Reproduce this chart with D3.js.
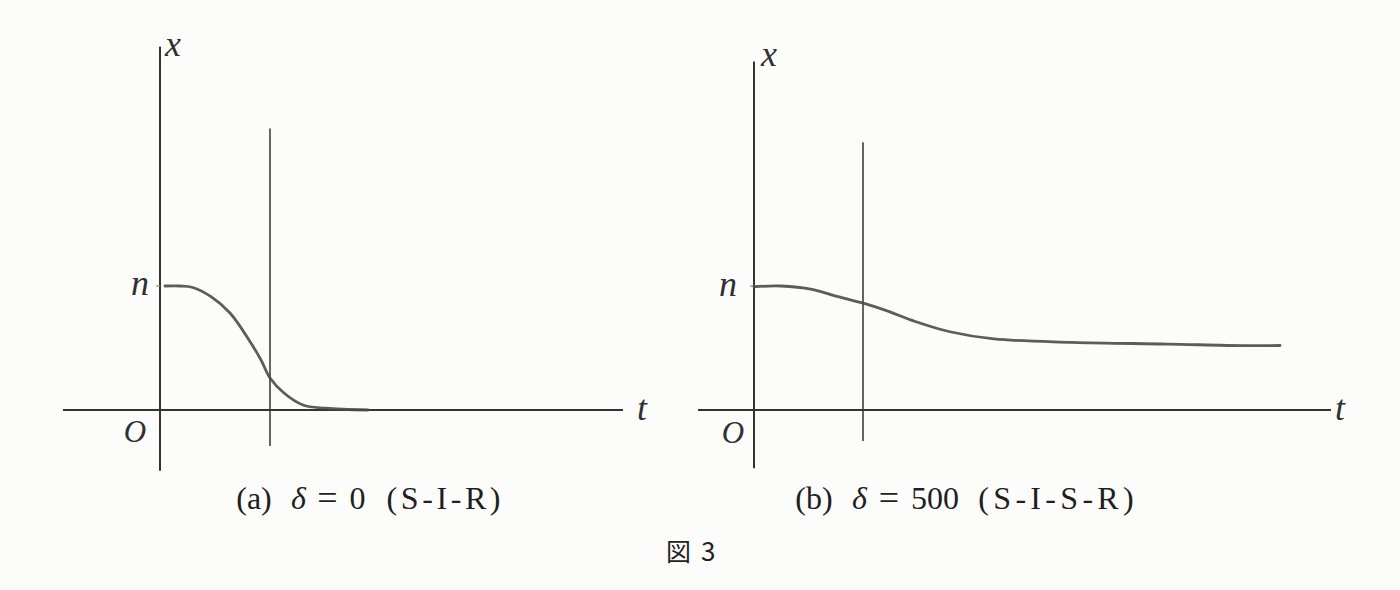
<!DOCTYPE html>
<html>
<head>
<meta charset="utf-8">
<script src="https://cdn.jsdelivr.net/npm/d3@7"></script>
<style>
  html, body { margin: 0; padding: 0; background: #fcfcfb; }
  svg { display: block; }
  .lbl { font-family: "Liberation Serif", "DejaVu Serif", serif; font-style: italic; fill: #303030; }
  .cap { font-family: "Liberation Serif", "DejaVu Serif", serif; fill: #1f1f1f; }
  .fig { font-family: "Noto Sans CJK JP", sans-serif; fill: #222; }
</style>
</head>
<body>
<script>
// ---- data (t in arbitrary time units, x as a fraction of n) ----
const panelA_t = [0.05, 0.20, 0.32, 0.51, 0.70, 0.89, 1.01, 1.10, 1.24, 1.43, 1.66, 2.08];
const panelA_x = [1.00, 1.00, 0.99, 0.914, 0.782, 0.565, 0.403, 0.258, 0.137, 0.040, 0.014, 0.0];
const panelB_t = [0.0, 0.27, 0.58, 0.84, 1.10, 1.31, 1.62, 1.96, 2.40, 3.18, 4.13, 4.91, 5.26];
const panelB_x = [0.994, 1.0, 0.973, 0.914, 0.860, 0.806, 0.712, 0.631, 0.573, 0.546, 0.532, 0.519, 0.52];
const markerT = [1.10, 1.09];                 // vertical reference line positions
const axisLabels = { x: "x", t: "t", n: "n", origin: "O" };
const captions = ["(a)", "(b)"];
const deltaValues = ["0", "500"];
const modelNames = ["(S-I-R)", "(S-I-S-R)"];
const figureTitle = ["図", "3"];

const W = 1400, H = 590;
const svg = d3.select("body").append("svg").attr("width", W).attr("height", H);

const panels = [
  { t: panelA_t, x: panelA_x, origin: 160, tRange: [-0.97, 4.63], xRange: [-0.49, 2.93],
    vTop: 2.27, vBot: -0.29, mark: markerT[0],
    lab: { x: [13, 56], n: [-20, 295], o: [-25, 442], t: [19, 420] },
    cap: [254, 298.5, 327.5, 357.5, 443.5] },
  { t: panelB_t, x: panelB_x, origin: 754, tRange: [-0.56, 5.77], xRange: [-0.47, 2.81],
    vTop: 2.16, vBot: -0.25, mark: markerT[1],
    lab: { x: [15, 66], n: [-26, 296], o: [-21, 443], t: [9, 420] },
    cap: [814, 859.5, 889, 935, 1056] }
];

const y = d3.scaleLinear().domain([0, 1]).range([410, 286]);
const axisColor = "#333";

panels.forEach((p, i) => {
  const x = d3.scaleLinear().domain([0, 1]).range([p.origin, p.origin + 100]);
  const g = svg.append("g");

  // t axis
  g.append("line").attr("x1", x(p.tRange[0])).attr("x2", x(p.tRange[1]))
    .attr("y1", y(0)).attr("y2", y(0))
    .attr("stroke", axisColor).attr("stroke-width", 2);
  // x axis
  g.append("line").attr("x1", x(0)).attr("x2", x(0))
    .attr("y1", y(p.xRange[0])).attr("y2", y(p.xRange[1]))
    .attr("stroke", axisColor).attr("stroke-width", 2);
  // vertical marker
  g.append("line").attr("x1", x(p.mark)).attr("x2", x(p.mark))
    .attr("y1", y(p.vBot)).attr("y2", y(p.vTop))
    .attr("stroke", axisColor).attr("stroke-width", 1.5);

  // small n tick
  g.append("line").attr("x1", x(-0.04)).attr("x2", x(0.0))
    .attr("y1", y(1)).attr("y2", y(1))
    .attr("stroke", "#888").attr("stroke-width", 1.2);

  // curve
  const data = p.t.map((tv, k) => [tv, p.x[k]]);
  const line = d3.line().x(d => x(d[0])).y(d => y(d[1])).curve(d3.curveCatmullRom.alpha(0.5));
  g.append("path").datum(data).attr("d", line)
    .attr("fill", "none").attr("stroke", "#4a4a4a").attr("stroke-width", 2.8)
    .attr("stroke-linecap", "round").attr("opacity", 0.9);

  // labels
  const L = p.lab;
  g.append("text").attr("class", "lbl").attr("x", x(0) + L.x[0]).attr("y", L.x[1])
    .attr("text-anchor", "middle").attr("font-size", 36).text(axisLabels.x);
  g.append("text").attr("class", "lbl").attr("x", x(0) + L.n[0]).attr("y", L.n[1])
    .attr("text-anchor", "middle").attr("font-size", 36).text(axisLabels.n);
  g.append("text").attr("class", "lbl").attr("x", x(0) + L.o[0]).attr("y", L.o[1])
    .attr("text-anchor", "middle").attr("font-size", 31).text(axisLabels.origin);
  g.append("text").attr("class", "lbl").attr("x", x(p.tRange[1]) + L.t[0]).attr("y", L.t[1])
    .attr("text-anchor", "middle").attr("font-size", 36).text(axisLabels.t);

  // caption, piece by piece (centred on the measured positions)
  const parts = [
    { s: captions[i], it: false },
    { s: "δ", it: true },
    { s: "=", it: false, fs: 36 },
    { s: deltaValues[i], it: false },
    { s: modelNames[i], it: false, ls: i === 0 ? 3.6 : 4.3 }
  ];
  parts.forEach((pt, k) => {
    svg.append("text").attr("class", "cap")
      .attr("x", p.cap[k] + (pt.ls ? pt.ls / 2 : 0)).attr("y", pt.fs ? 510 : 509)
      .attr("text-anchor", "middle")
      .attr("font-size", pt.fs || 32)
      .attr("font-style", pt.it ? "italic" : "normal")
      .attr("letter-spacing", pt.ls || 0)
      .text(pt.s);
  });
});

svg.append("text").attr("class", "fig").attr("x", 666).attr("y", 561)
  .attr("font-size", 25).text(figureTitle[0]);
svg.append("text").attr("class", "fig").attr("x", 701).attr("y", 561)
  .attr("font-size", 26).text(figureTitle[1]);
</script>
</body>
</html>
